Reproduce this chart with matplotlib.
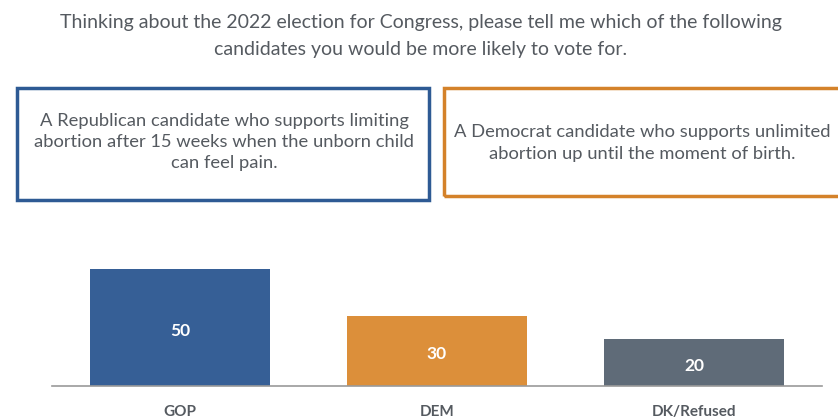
import matplotlib.pyplot as plt
from matplotlib.patches import Rectangle

categories = ['GOP', 'DEM', 'DK/Refused']
values = [50, 30, 20]
colors = ['#365f96', '#dc8f3a', '#5f6b78']

title = ("Thinking about the 2022 election for Congress, please tell me which of the following\n"
         "candidates you would be more likely to vote for.")
rep_text = ("A Republican candidate who supports limiting\n"
            "abortion after 15 weeks when the unborn child\n"
            "can feel pain.")
dem_text = ("A Democrat candidate who supports unlimited\n"
            "abortion up until the moment of birth.")

plt.rcParams['font.family'] = ['Lato', 'DejaVu Sans']
W, H = 838, 418
fig = plt.figure(figsize=(W / 100, H / 100), dpi=100)
fig.patch.set_facecolor('white')

text_col = '#555a60'

fig.text(421 / W, 1 - 36 / H, title, ha='center', va='center', fontsize=14.0,
         color=text_col, linespacing=1.75)

# the two statement boxes
fig.patches.append(Rectangle((17 / W, 1 - 200 / H), 412 / W, 112 / H, transform=fig.transFigure,
                             fill=False, edgecolor='#2e5a94', linewidth=2.5))
fig.patches.append(Rectangle((444 / W, 1 - 196 / H), 400 / W, 108 / H, transform=fig.transFigure,
                             fill=False, edgecolor='#d4822a', linewidth=2.5, clip_on=False))
fig.text(224 / W, 1 - 142 / H, rep_text, ha='center', va='center', fontsize=13.2,
         color=text_col, linespacing=1.42)
fig.text(642 / W, 1 - 143 / H, dem_text, ha='center', va='center', fontsize=13.2,
         color=text_col, linespacing=1.42)

# bar chart
ax = fig.add_axes([52 / W, 32 / H, 770 / W, 140 / H])
ax.set_facecolor('none')
x = range(len(categories))
bars = ax.bar(x, values, width=0.70, color=colors)
for b, v in zip(bars, values):
    ax.text(b.get_x() + b.get_width() / 2, v / 2 - 1.5, str(v), ha='center', va='center',
            color='white', fontsize=12.5, fontweight='bold')
ax.set_xlim(-0.498, 2.498)
ax.set_ylim(0, 140 / 2.34)
ax.set_xticks(list(x))
ax.set_xticklabels(categories, fontsize=11, fontweight='bold', color=text_col)
ax.tick_params(axis='x', length=0, pad=14)
ax.set_yticks([])
for s in ['top', 'left', 'right']:
    ax.spines[s].set_visible(False)
ax.spines['bottom'].set_color('#9a9a9a')
ax.spines['bottom'].set_linewidth(1.2)

fig.savefig('out.png', dpi=100)
